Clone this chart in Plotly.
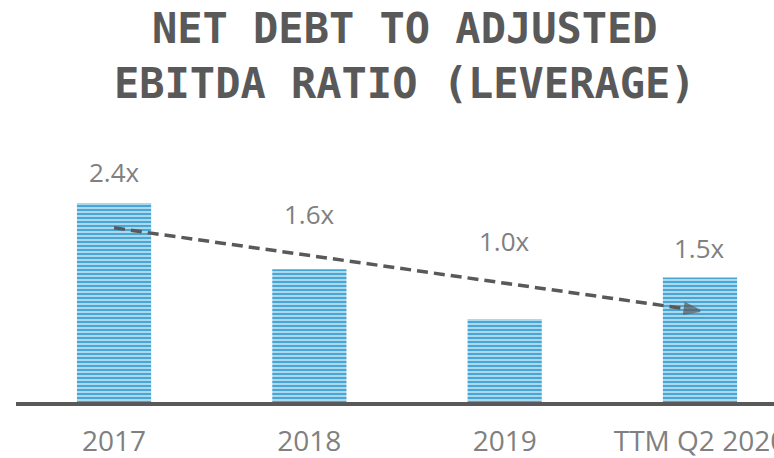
import plotly.graph_objects as go

categories = ["2017", "2018", "2019", "TTM Q2 2020"]
leverage = [2.4, 1.6, 1.0, 1.5]
labels = ["2.4x", "1.6x", "1.0x", "1.5x"]
trend_x = ["2017", "TTM Q2 2020"]
trend_y = [2.1, 1.1]

label_shift = [31, 55, 78, 30]

fig = go.Figure()
fig.add_trace(go.Bar(
    x=categories, y=leverage, width=0.38,
    marker=dict(color="#4aa8d6", line=dict(width=0),
                pattern=dict(shape="-", fgcolor="#cde9f7", bgcolor="#48a6d5",
                             size=4, solidity=0.38, fillmode="replace")),
    hoverinfo="skip", showlegend=False,
))
fig.add_trace(go.Scatter(
    x=trend_x, y=trend_y, mode="lines+markers",
    line=dict(color="#595959", width=3.5, dash="11px,6px"),
    marker=dict(symbol="arrow", size=[0, 16], angleref="previous", color="#595959",
                line=dict(color="#595959", width=2.5)),
    hoverinfo="skip", showlegend=False,
))
for i, (v, t, s) in enumerate(zip(leverage, labels, label_shift)):
    fig.add_annotation(x=i, y=v, text=t, showarrow=False, yshift=s, yanchor="middle",
                       font=dict(family="Open Sans", size=26, color="#808080"))

fig.update_layout(
    width=774, height=458,
    margin=dict(l=16, r=0, t=130, b=56, autoexpand=False),
    paper_bgcolor="white", plot_bgcolor="white",
    title=dict(text="NET DEBT TO ADJUSTED<br>EBITDA RATIO (LEVERAGE)",
               x=0.523, xanchor="center", y=0.906, yanchor="top",
               font=dict(family="DejaVu Sans Mono", size=42, color="#595959", weight="bold")),
    xaxis=dict(type="category", range=[-0.502, 3.379], showline=True, linecolor="#595959", linewidth=4,
               showgrid=False, zeroline=False, ticks="", ticklabelstandoff=11, automargin=False,
               tickfont=dict(family="Open Sans", size=28, color="#808080")),
    yaxis=dict(range=[0, 3.28], visible=False, showgrid=False, zeroline=False, automargin=False),
)
fig.write_html("out.html", config={"displayModeBar": False},
               post_script="document.body.style.margin='0';document.body.style.overflow='hidden';")
